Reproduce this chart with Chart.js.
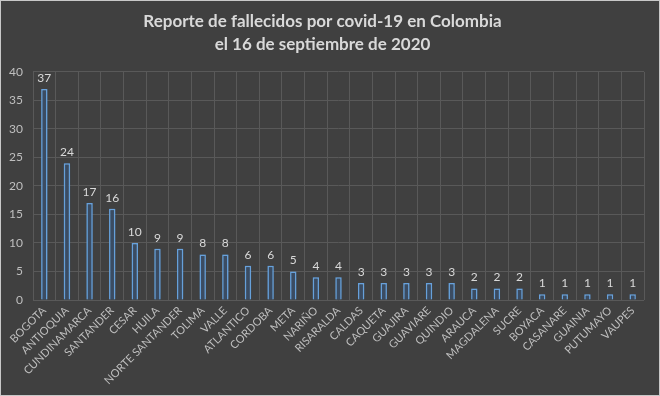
<!DOCTYPE html>
<html>
<head>
<meta charset="utf-8">
<script src="https://cdn.jsdelivr.net/npm/chart.js@4/dist/chart.umd.min.js"></script>
<style>
  html, body { margin: 0; padding: 0; background: #ffffff; }
  #wrap {
    width: 660px; height: 396px; box-sizing: border-box;
    border: 1px solid #c8c8c8; background: #404040;
  }
  #wrap canvas { display: block; }
</style>
</head>
<body>
<div id="wrap"><canvas id="chart" width="658" height="394"></canvas></div>
<script>
const titleLines = ["Reporte de fallecidos por covid-19 en Colombia", "el 16 de septiembre de 2020"];
const departments = [
  "BOGOTA", "ANTIOQUIA", "CUNDINAMARCA", "SANTANDER", "CESAR", "HUILA",
  "NORTE SANTANDER", "TOLIMA", "VALLE", "ATLANTICO", "CORDOBA", "META",
  "NARIÑO", "RISARALDA", "CALDAS", "CAQUETA", "GUAJIRA", "GUAVIARE",
  "QUINDIO", "ARAUCA", "MAGDALENA", "SUCRE", "BOYACA", "CASANARE",
  "GUAINIA", "PUTUMAYO", "VAUPES",
];
const deaths = [37, 24, 17, 16, 10, 9, 9, 8, 8, 6, 6, 5, 4, 4, 3, 3, 3, 3, 3, 2, 2, 2, 1, 1, 1, 1, 1];
const yTicks = [0, 5, 10, 15, 20, 25, 30, 35, 40];

const fontFamily = "Lato, 'Open Sans', sans-serif";

// Glow around the bars.
const glowPlugin = {
  id: "barGlow",
  beforeDatasetsDraw: (chart) => {
    const { ctx } = chart;
    ctx.save();
    ctx.shadowColor = "rgba(91, 155, 213, 0.9)";
    ctx.shadowBlur = 8;
  },
  afterDatasetsDraw: (chart) => {
    chart.ctx.restore();
  },
};

// Value labels above the bars.
const valueLabels = {
  id: "valueLabels",
  afterDatasetsDraw: (chart) => {
    const { ctx } = chart;
    const meta = chart.getDatasetMeta(0);
    ctx.save();
    ctx.font = "12px " + fontFamily;
    ctx.fillStyle = "#d9d9d9";
    ctx.textAlign = "center";
    ctx.textBaseline = "bottom";
    meta.data.forEach((bar, i) => {
      ctx.fillText(String(deaths[i]), bar.x, bar.y - 5);
    });
    ctx.restore();
  },
};

const ctx = document.getElementById("chart").getContext("2d");
new Chart(ctx, {
  type: "bar",
  data: {
    labels: departments,
    datasets: [
      {
        data: deaths,
        backgroundColor: "#3b4c62",
        borderColor: "#6aa2dc",
        borderWidth: 1.5,
        barPercentage: 0.28,
        categoryPercentage: 1,
      },
    ],
  },
  options: {
    responsive: false,
    animation: false,
    layout: { padding: { left: 0, right: 15, top: 0, bottom: 0 } },
    plugins: {
      legend: { display: false },
      tooltip: { enabled: false },
      title: {
        display: true,
        text: titleLines,
        color: "#d9d9d9",
        font: { family: fontFamily, size: 17, weight: "bold", lineHeight: 1.35 },
        padding: { top: 9, bottom: 16 },
      },
    },
    scales: {
      x: {
        grid: { color: "#595959", drawTicks: false, offset: true },
        border: { display: false },
        ticks: {
          color: "#bfbfbf",
          font: { family: fontFamily, size: 11 },
          minRotation: 45,
          maxRotation: 45,
          autoSkip: false,
          padding: 4,
        },
        afterFit: (scale) => { scale.height = 95; },
      },
      y: {
        min: 0,
        max: 40,
        afterBuildTicks: (scale) => { scale.ticks = yTicks.map((v) => ({ value: v })); },
        grid: { color: "#595959", drawTicks: false },
        border: { display: false },
        ticks: {
          color: "#bfbfbf",
          font: { family: fontFamily, size: 12 },
          padding: 10,
        },
        afterFit: (scale) => { scale.width = 32; },
      },
    },
  },
  plugins: [glowPlugin, valueLabels],
});
</script>
</body>
</html>
